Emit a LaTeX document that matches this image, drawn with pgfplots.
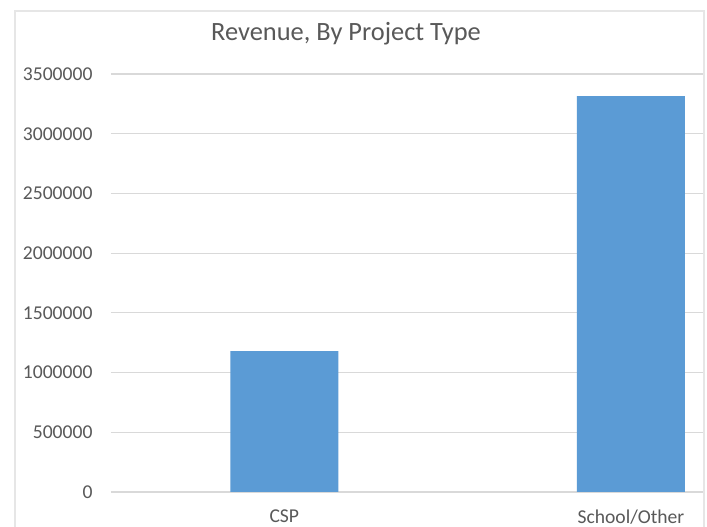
\documentclass[border=0pt]{standalone}
\usepackage{pgfplots}
\pgfplotsset{compat=1.18}
\usepackage{fontspec}
\setmainfont{Carlito}
\definecolor{barblue}{HTML}{5B9BD5}
\definecolor{gridgray}{HTML}{D9D9D9}
\definecolor{txtgray}{HTML}{595959}
\definecolor{framegray}{HTML}{E6E6E6}
\begin{document}
\begin{tikzpicture}
\useasboundingbox (0pt,0pt) rectangle (707pt,527pt);
\fill[white] (0pt,0pt) rectangle (707pt,527pt);
\draw[framegray, line width=1.2pt] (15pt,-2pt) -- (15pt,516pt) -- (704pt,516pt) -- (704pt,-2pt);
\node[txtgray, font=\fontsize{26.4}{30}\selectfont] at (346pt,493pt) {Revenue, By Project Type};
\begin{axis}[
  at={(111pt,35pt)}, anchor=south west,
  scale only axis, width=592pt, height=418pt,
  xmin=-0.5, xmax=1.208, ymin=0, ymax=3500000,
  axis line style={draw=none},
  major tick length=0pt,
  ymajorgrids, grid style={gridgray, line width=1.1pt},
  ytick={0,500000,1000000,1500000,2000000,2500000,3000000,3500000},
  scaled y ticks=false,
  /pgf/number format/fixed,
  /pgf/number format/1000 sep={},
  /pgf/number format/assume math mode=true,
  xtick={0,1}, xticklabels={CSP, School/Other},
  tick label style={txtgray, font=\fontsize{19.6}{22}\selectfont},
  yticklabel style={xshift=-15pt},
  xticklabel style={yshift=-14pt},
  clip=false,
]
\addplot[ybar, bar width=108pt, fill=barblue, draw=none] coordinates {(0,1180000) (1,3315000)};
\end{axis}
\end{tikzpicture}
\end{document}
